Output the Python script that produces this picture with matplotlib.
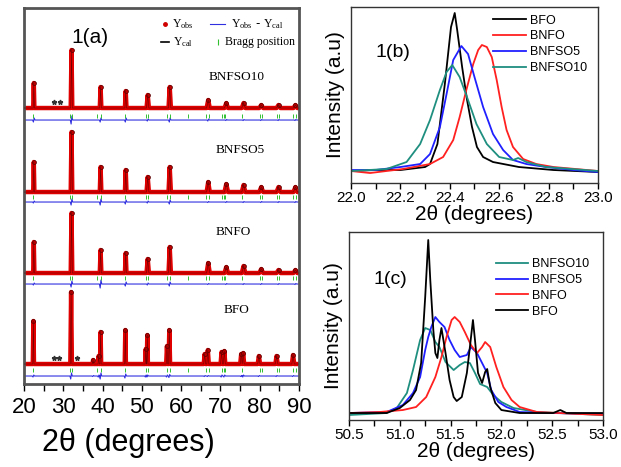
import numpy as np
import matplotlib
matplotlib.use('Agg')
import matplotlib.pyplot as plt
from matplotlib.ticker import MultipleLocator, FormatStrFormatter

plt.rcParams['font.family'] = ['Liberation Sans', 'DejaVu Sans']

# ---- 1(a): Rietveld patterns (stacked, arbitrary units) ----
samples = ['BNFSO10', 'BNFSO5', 'BNFO', 'BFO']
baseline = {'BNFSO10': 276, 'BNFSO5': 192, 'BNFO': 111, 'BFO': 20}
bragg_row = {'BNFSO10': 268, 'BNFSO5': 187, 'BNFO': 106, 'BFO': 14}
diff_row = {'BNFSO10': 264, 'BNFSO5': 182, 'BNFO': 100, 'BFO': 8}

# reflections of the doped samples
doped_pos = [22.5, 32.1, 39.5, 45.9, 51.5, 57.1, 66.9, 71.5, 75.9, 80.4, 84.8, 89.1]
doped_hw = [0.15, 0.2, 0.2, 0.2, 0.3, 0.3, 0.4, 0.45, 0.45, 0.5, 0.5, 0.5]
peak_h = {
    'BNFSO10': [25, 58, 21, 17, 13, 21, 8, 5, 5, 3, 3, 3],
    'BNFSO5': [30, 60, 25, 22, 15, 25, 10, 8, 7, 5, 5, 5],
    'BNFO': [31, 60, 23, 20, 14, 26, 10, 6, 7, 4, 3, 3],
}
diff_dev = {
    'BNFSO10': [2, 4, 2, 2, 1, 2, 1, 0.5, 0.5, 0.5, 0.5, 0.5],
    'BNFSO5': [1, 3, 3, 2, 1, 2, 0.5, 0.5, 0.5, 0.5, 0.5, 0.5],
    'BNFO': [1, 3, 4, 2, 1, 2, 0.5, 0.5, 0.5, 0.5, 0.5, 0.5],
}

# undoped BFO shows split reflections
bfo_pos = [22.4, 32.0, 37.6, 39.0, 39.5, 45.8, 51.0, 51.4, 56.4, 57.0,
           66.0, 66.8, 70.3, 71.0, 75.3, 75.8, 79.8, 84.3, 88.5]
bfo_hw = [0.15, 0.2, 0.15, 0.15, 0.15, 0.15, 0.15, 0.15, 0.2, 0.2,
          0.25, 0.25, 0.25, 0.25, 0.25, 0.25, 0.3, 0.3, 0.3]
bfo_h = [43, 72, 4, 8, 32, 34, 15, 29, 18, 34,
         10, 14, 12, 13, 10, 11, 8, 8, 9]
bfo_dev = [1, 3, 0.5, 1, 3, 2, 1, 1, 1, 1.5,
           0.5, 0.5, 1, 1, 0.5, 1, 0.5, 0.5, 0.5]

bragg_pos = [22.4, 31.8, 32.1, 38.5, 39.5, 45.8, 51.0, 51.6, 56.4, 57.2, 61.8,
             66.4, 67.0, 70.3, 70.8, 71.3, 75.4, 80.0, 80.6, 84.4, 85.0, 88.6, 89.2]

impurity = {'BNFSO10': [27.6, 29.2], 'BFO': [27.6, 28.9, 33.5]}

# ---- 1(b): (012) reflection near 22.4 deg ----
b_x = {
    'BFO': [22.0, 22.1, 22.2, 22.3, 22.32, 22.35, 22.38, 22.405, 22.42, 22.43, 22.45,
            22.47, 22.49, 22.51, 22.535, 22.575, 22.68, 22.82, 23.0],
    'BNFO': [22.0, 22.077, 22.21, 22.32, 22.373, 22.414, 22.44, 22.467, 22.495, 22.515,
             22.53, 22.55, 22.57, 22.59, 22.61, 22.63, 22.656, 22.697, 22.75, 22.82, 23.0],
    'BNFSO5': [22.0, 22.1, 22.2, 22.28, 22.32, 22.36, 22.387, 22.414, 22.447, 22.474,
               22.5, 22.535, 22.575, 22.616, 22.656, 22.71, 22.79, 22.9, 23.0],
    'BNFSO10': [22.0, 22.144, 22.225, 22.28, 22.32, 22.36, 22.387, 22.41, 22.44, 22.474,
                22.508, 22.55, 22.6, 22.656, 22.677, 22.71, 22.79, 23.0],
}
b_y = {
    'BFO': [12, 13, 13, 16, 19, 39, 99, 156, 170, 153, 116, 83, 56, 36, 26, 21, 16, 13, 11],
    'BNFO': [12, 10, 14, 19, 26, 43, 66, 93, 119, 133, 138, 136, 126, 103, 76, 53, 36,
             24, 19, 16, 12],
    'BNFSO5': [13, 13, 16, 19, 29, 56, 89, 123, 137, 129, 106, 76, 49, 33, 23, 19, 16, 13, 11],
    'BNFSO10': [12, 14, 21, 39, 63, 93, 111, 118, 106, 83, 59, 39, 26, 23, 25, 21, 16, 12],
}

# ---- 1(c): (024) doublet region near 51.5 deg ----
c_x = {
    'BNFSO10': [50.5, 50.87, 50.97, 51.07, 51.13, 51.2, 51.25, 51.3, 51.35, 51.39, 51.45,
                51.53, 51.59, 51.64, 51.69, 51.74, 51.79, 51.86, 51.92, 52.0, 52.12, 52.35, 53.0],
    'BNFSO5': [50.5, 50.87, 51.03, 51.13, 51.2, 51.25, 51.28, 51.31, 51.35, 51.39, 51.44,
               51.49, 51.54, 51.59, 51.66, 51.7, 51.76, 51.81, 51.86, 51.9, 51.97, 52.05,
               52.18, 52.5, 53.0],
    'BNFO': [50.5, 50.8, 51.03, 51.16, 51.26, 51.35, 51.41, 51.46, 51.51, 51.54, 51.59,
             51.64, 51.7, 51.76, 51.81, 51.84, 51.89, 51.95, 52.02, 52.1, 52.18, 52.35, 53.0],
    'BFO': [50.5, 50.87, 51.0, 51.1, 51.16, 51.21, 51.25, 51.28, 51.3, 51.33, 51.35, 51.37,
            51.39, 51.41, 51.45, 51.49, 51.53, 51.56, 51.61, 51.66, 51.69, 51.72, 51.74,
            51.77, 51.81, 51.84, 51.86, 51.89, 51.94, 52.0, 52.18, 52.51, 52.58, 52.64, 53.0],
}
c_y = {
    'BNFSO10': [5, 7, 12, 27, 50, 80, 92, 90, 78, 73, 58, 50, 55, 58, 57, 47, 36, 33, 25,
                18, 12, 8, 5],
    'BNFSO5': [7, 8, 15, 27, 43, 70, 83, 93, 103, 98, 93, 80, 70, 63, 65, 73, 67, 57, 47,
               30, 18, 13, 8, 7, 6],
    'BNFO': [7, 8, 10, 13, 23, 43, 63, 83, 100, 103, 98, 88, 75, 67, 73, 78, 73, 53, 33,
             20, 13, 8, 5],
    'BFO': [7, 7, 12, 20, 30, 57, 123, 180, 140, 90, 67, 62, 80, 92, 67, 40, 23, 19, 23,
            47, 73, 100, 80, 47, 37, 48, 51, 33, 17, 10, 7, 7, 10, 7, 7],
}

colors = {'BFO': 'black', 'BNFO': '#ff2020', 'BNFSO5': '#2020ff', 'BNFSO10': '#1f8f80'}

fig = plt.figure(figsize=(6.21, 4.67), dpi=100)
ax_a = fig.add_axes([0.0386, 0.1777, 0.4428, 0.8051])
ax_b = fig.add_axes([0.5652, 0.6081, 0.3977, 0.3769])
ax_c = fig.add_axes([0.562, 0.1006, 0.409, 0.4026])

# stacked patterns
for s in samples:
    if s == 'BFO':
        pos, hw, h, dev = bfo_pos, bfo_hw, bfo_h, bfo_dev
    else:
        pos, hw, h, dev = doped_pos, doped_hw, peak_h[s], diff_dev[s]
    b0 = baseline[s]
    px, py = [20.0], [b0]
    dx, dy = [20.0], [diff_row[s]]
    for p, w, hh, d in zip(pos, hw, h, dev):
        px += [p - w, p, p + w]
        py += [b0, b0 + hh, b0]
        dx += [p - 0.3, p - 0.1, p + 0.1, p + 0.3]
        dy += [diff_row[s], diff_row[s] - d, diff_row[s] + d, diff_row[s]]
    px.append(90.0)
    py.append(b0)
    dx.append(90.0)
    dy.append(diff_row[s])
    ax_a.plot(px, py, color='#e00000', lw=3.2, solid_joinstyle='round', zorder=2)
    ax_a.plot(px[2::3], py[2::3], 'o', ms=2.8, color='#c00000', mec='#500000', mew=0.5, zorder=3)
    ax_a.plot(px, py, color='#700000', lw=0.4, zorder=4)
    ax_a.plot(dx, dy, color='#3030e0', lw=0.8, zorder=2)
    ax_a.plot(bragg_pos, [bragg_row[s]] * len(bragg_pos), '|', ms=2.5, mew=0.7,
              color='#30c030', zorder=2)
    if s in impurity:
        ax_a.plot(impurity[s], [b0 + 6] * len(impurity[s]), '*', ms=3.5,
                  color='#333333', zorder=5)

serif = ['Liberation Serif', 'DejaVu Serif']
label_xy = {'BNFSO10': (74.2, 307), 'BNFSO5': (75, 234), 'BNFO': (73.2, 152), 'BFO': (74.2, 74)}
for s, (lx, ly) in label_xy.items():
    ax_a.text(lx, ly, s, ha='center', va='center', fontsize=9.5, family=serif)
ax_a.text(36.8, 347, '1(a)', ha='center', va='center', fontsize=15)

# hand-placed legend of the refinement
ax_a.plot([55.9], [360], 'o', ms=2.5, color='#d00000')
ax_a.text(60.5, 360, r'$\mathregular{Y_{obs}}$', ha='center', va='center', fontsize=8.5, family=serif)
ax_a.plot([55.0, 57.0], [342, 342], color='black', lw=1.2)
ax_a.text(60.5, 342, r'$\mathregular{Y_{cal}}$', ha='center', va='center', fontsize=8.5, family=serif)
ax_a.plot([67.3, 71.1], [360, 360], color='#3030e0', lw=0.8)
ax_a.text(79.3, 360, r'$\mathregular{Y_{obs}\ \text{-}\ Y_{cal}}$', ha='center', va='center',
          fontsize=8.5, family=serif)
ax_a.plot([69.4], [342], '|', ms=4, mew=0.8, color='#30c030')
ax_a.text(80.2, 342, 'Bragg position', ha='center', va='center', fontsize=8.5, family=serif)

ax_a.set_xlim(20, 90)
ax_a.set_ylim(0, 376)
ax_a.xaxis.set_major_locator(MultipleLocator(10))
ax_a.xaxis.set_minor_locator(MultipleLocator(5))
ax_a.set_yticks([])
ax_a.tick_params(axis='x', which='both', direction='out', length=5, width=1, pad=4,
                 labelsize=16)
ax_a.set_xlabel('2\u03b8 (degrees)', fontsize=22)
ax_a.xaxis.set_label_coords(0.38, -0.157, transform=ax_a.transAxes)
ax_a.xaxis.label.set_va('center')
for sp in ax_a.spines.values():
    sp.set_color('#555555')
    sp.set_linewidth(2)

# zoomed reflections
for s in ['BFO', 'BNFO', 'BNFSO5', 'BNFSO10']:
    ax_b.plot(b_x[s], b_y[s], color=colors[s], lw=1.3, label=s)
for s in ['BNFSO10', 'BNFSO5', 'BNFO', 'BFO']:
    ax_c.plot(c_x[s], c_y[s], color=colors[s], lw=1.3, label=s)

ax_b.set_xlim(22.0, 23.0)
ax_b.set_ylim(0, 176)
ax_b.xaxis.set_major_locator(MultipleLocator(0.2))
ax_b.xaxis.set_minor_locator(MultipleLocator(0.1))
ax_b.xaxis.set_major_formatter(FormatStrFormatter('%.1f'))
ax_b.text(0.1, 0.74, '1(b)', transform=ax_b.transAxes, fontsize=14, va='center')

ax_c.set_xlim(50.5, 53.0)
ax_c.set_ylim(0, 188)
ax_c.xaxis.set_major_locator(MultipleLocator(0.5))
ax_c.xaxis.set_minor_locator(MultipleLocator(0.25))
ax_c.xaxis.set_major_formatter(FormatStrFormatter('%.1f'))
ax_c.text(0.095, 0.75, '1(c)', transform=ax_c.transAxes, fontsize=14, va='center')

for ax in (ax_b, ax_c):
    ax.set_yticks([])
    ax.tick_params(axis='x', which='both', direction='out', length=4, width=1,
                   labelsize=11, pad=2)
    ax.set_xlabel('2\u03b8 (degrees)', fontsize=15, labelpad=0)
    ax.set_ylabel('Intensity (a.u)', fontsize=15, labelpad=4)
    for sp in ax.spines.values():
        sp.set_color('#333333')
        sp.set_linewidth(1)

ax_b.legend(loc='upper right', bbox_to_anchor=(1.0, 1.02), frameon=False, fontsize=9,
            handlelength=2.6, handletextpad=0.3, labelspacing=0.3)
ax_c.legend(loc='upper right', bbox_to_anchor=(0.99, 0.92), frameon=False, fontsize=9,
            handlelength=2.6, handletextpad=0.3, labelspacing=0.3)

fig.savefig('out.png', dpi=100)
